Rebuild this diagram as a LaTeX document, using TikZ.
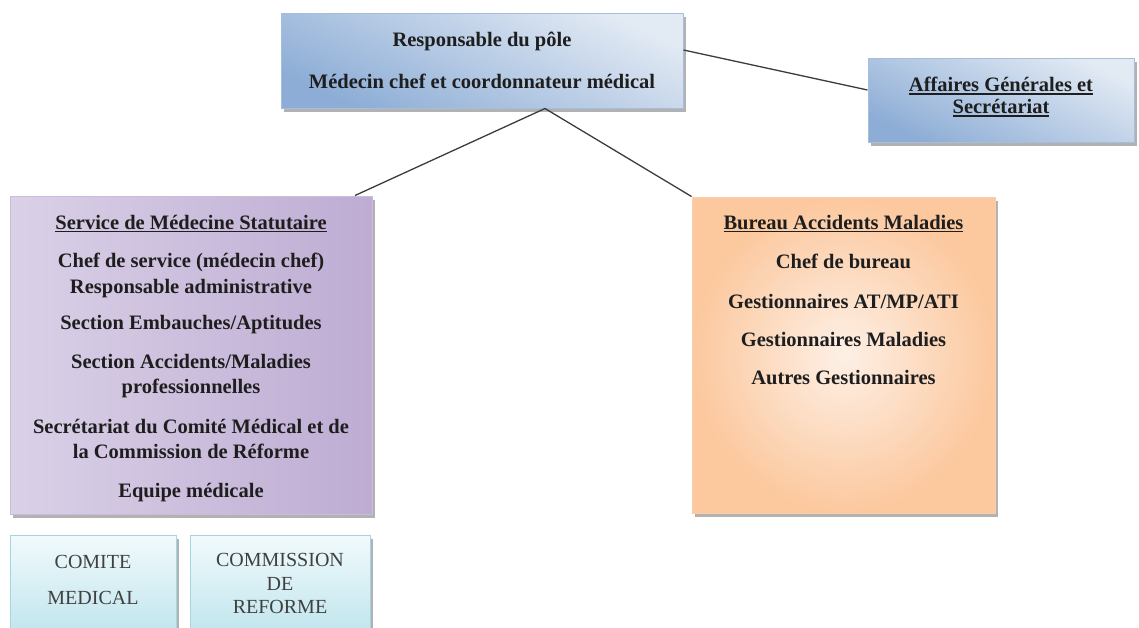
\documentclass[tikz,border=0pt]{standalone}
\usepackage{fontspec}
\setmainfont{Liberation Serif}
\usetikzlibrary{shadows}
\definecolor{ink}{HTML}{1E1E1E}
\definecolor{linkgray}{HTML}{3C3C3C}
\definecolor{polelight}{HTML}{E2EAF4}
\definecolor{poledark}{HTML}{8DADD6}
\definecolor{poleedge}{HTML}{A7BEDB}
\definecolor{servlight}{HTML}{F0ECF5}
\definecolor{servmid}{HTML}{DAD1E7}
\definecolor{servdark}{HTML}{BEACD3}
\definecolor{servedge}{HTML}{C9BDDB}
\definecolor{bamlight}{HTML}{FDF0E6}
\definecolor{bamdark}{HTML}{FCC89E}
\definecolor{bamedge}{HTML}{FBCDA8}
\definecolor{comlight}{HTML}{F1FAFC}
\definecolor{comdark}{HTML}{BDE4EC}
\definecolor{comedge}{HTML}{A3D6E2}
% underline with a thicker rule
\newcommand{\ulwords}[1]{\setbox0\hbox{#1}\rlap{\rule[-3pt]{\wd0}{1.4pt}}\box0}

\begin{document}
\begin{tikzpicture}[x=1pt,y=-1pt,
  box/.style={draw=#1, line width=1pt, inner sep=0pt,
    drop shadow={shadow xshift=2.5pt,shadow yshift=-3.5pt,fill=black!55,opacity=.55}},
  polebox/.style={box=poleedge, top color=polelight, bottom color=poledark, shading angle=-25},
  servbox/.style={box=servedge, left color=servmid, middle color=servlight, right color=servdark},
  bambox/.style={box=bamedge, inner color=bamlight, outer color=bamdark},
  combox/.style={box=comedge, top color=comlight, bottom color=comdark},
  txt/.style={font=\fontsize{20.5}{25.5}\selectfont\bfseries, text=ink, inner sep=0pt, align=center},
  comtxt/.style={font=\fontsize{20}{23.5}\selectfont, text=ink!85, align=center},
  link/.style={draw=linkgray, line width=1.3pt}]
\useasboundingbox (0,0) rectangle (1139,627);

% boxes
\node[polebox, txt, minimum width=402pt, minimum height=95pt] (pole) at (482,60.5)
  {Responsable du pôle\\[16.5pt]Médecin chef et coordonnateur médical};
\node[polebox, minimum width=266pt, minimum height=84pt] (aff) at (1001,100) {};
\node[servbox, minimum width=362pt, minimum height=318pt] (serv) at (191,355) {};
\node[bambox, minimum width=303pt, minimum height=316pt] (bam) at (843.5,355) {};
\node[combox, minimum width=166pt, minimum height=105pt] (comite) at (93,587.5) {};
\node[combox, minimum width=180pt, minimum height=105pt] (commission) at (280,587.5) {};

% texts
\node[txt, anchor=north] (afftxt) at ([yshift=-19.5pt]aff.north)
  {\ulwords{Affaires Générales et}\\[-3.5pt]\ulwords{Secrétariat}};
\node[txt, anchor=north] (servtxt) at ([yshift=-19.5pt]serv.north)
  {\ulwords{Service de Médecine Statutaire}\\[13pt]
   Chef de service (médecin chef)\\
   Responsable administrative\\[11pt]
   Section Embauches/Aptitudes\\[13pt]
   Section Accidents/Maladies\\
   professionnelles\\[14pt]
   Secrétariat du Comité Médical et de\\
   la Commission de Réforme\\[13.5pt]
   Equipe médicale};
\node[txt, anchor=north] (bamtxt) at ([yshift=-18.5pt]bam.north)
  {\ulwords{Bureau Accidents Maladies}\\[13.5pt]
   Chef de bureau\\[14.5pt]
   Gestionnaires AT/MP/ATI\\[12.5pt]
   Gestionnaires Maladies\\[12.5pt]
   Autres Gestionnaires};
\node[comtxt] (comitetxt) at (93,580) {COMITE\\[12.5pt]MEDICAL};
\node[comtxt] (commissiontxt) at (280,583.5) {COMMISSION\\DE\\REFORME};

% connectors
\draw[link] ([xshift=63pt]pole.south) -- ([xshift=164pt]serv.north);
\draw[link] ([xshift=63pt]pole.south) -- (bam.north west);
\draw[link] ([yshift=10.5pt]pole.east) -- ([yshift=10pt]aff.west);
\end{tikzpicture}
\end{document}
